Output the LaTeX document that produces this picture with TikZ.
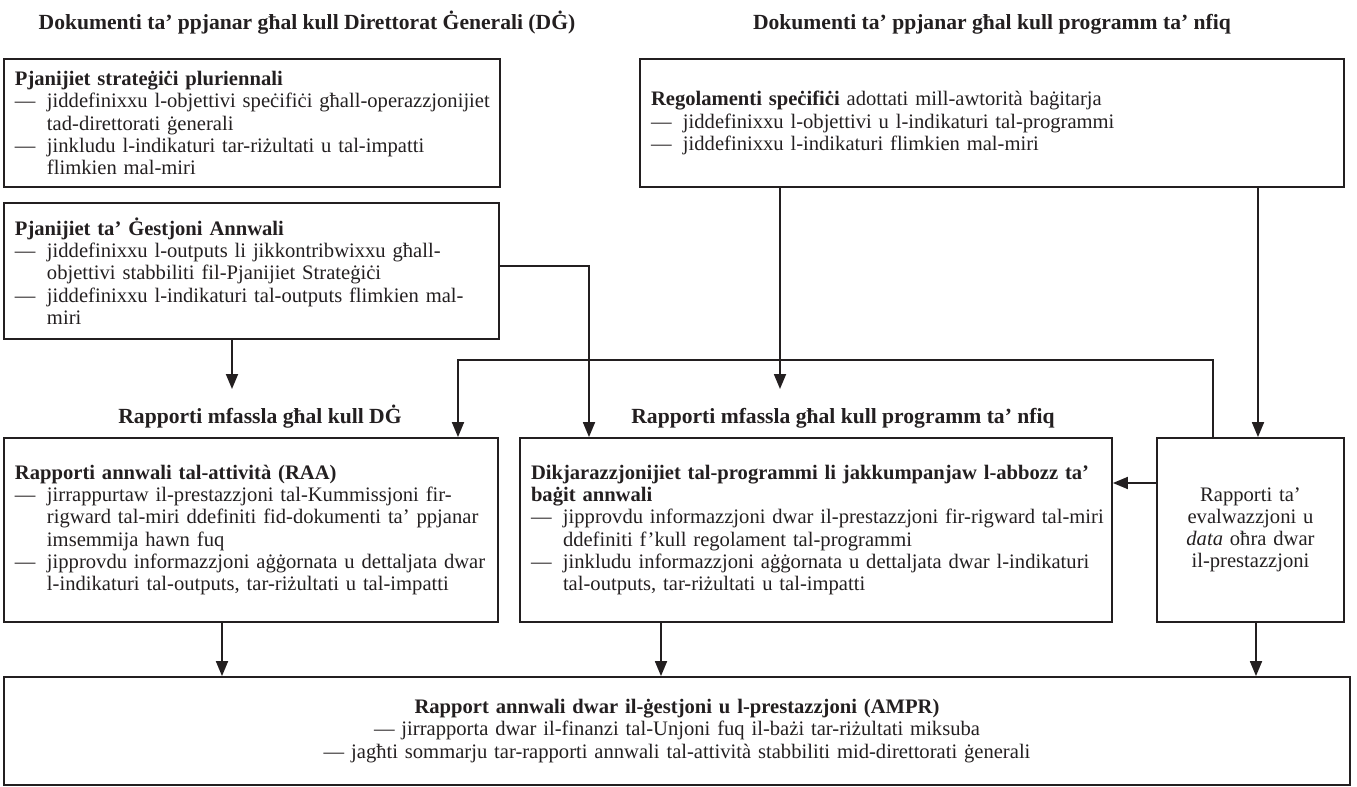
\documentclass[tikz,border=0pt]{standalone}
\usepackage{fontspec}
\setmainfont{Liberation Serif}
\usetikzlibrary{arrows.meta}
\definecolor{ink}{RGB}{35,31,32}
\newcommand\dsh{\makebox[16pt][l]{—}}
\newcommand\ind{\hspace*{16pt}}
\newcommand\lin[1]{\mbox{#1}}
\begin{document}
\begin{tikzpicture}[x=0.5pt,y=-0.5pt,
  every node/.style={text=ink},
  bx/.style={draw=ink, line width=0.9pt, inner xsep=5.5pt, inner ysep=2pt, align=left,
    font=\fontsize{10.3}{11.1}\selectfont},
  cbx/.style={bx, align=center},
  ttl/.style={anchor=base, font=\bfseries\fontsize{10.8}{12}\selectfont},
  arr/.style={draw=ink, line width=0.9pt, -{Triangle[length=7.5pt,width=6pt]}}
]
\useasboundingbox (0,0) rectangle (1357,787);

% titles
\node[ttl] (t1) at (307,29) {Dokumenti ta’ ppjanar għal kull Direttorat Ġenerali (DĠ)};
\node[ttl] (t2) at (992,29) {Dokumenti ta’ ppjanar għal kull programm ta’ nfiq};
\node[ttl] (t3) at (260,423) {Rapporti mfassla għal kull DĠ};
\node[ttl] (t4) at (843,423) {Rapporti mfassla għal kull programm ta’ nfiq};

% boxes
\node[bx, minimum width=248pt, minimum height=64pt, text width=237pt] (sp) at (252,123) {%
\lin{\textbf{Pjanijiet strateġiċi pluriennali}}\\
\lin{\dsh jiddefinixxu l-objettivi speċifiċi għall-operazzjonijiet}\\
\lin{\ind tad-direttorati ġenerali}\\
\lin{\dsh jinkludu l-indikaturi tar-riżultati u tal-impatti}\\
\lin{\ind flimkien mal-miri}};

\node[bx, minimum width=247.5pt, minimum height=68pt, text width=236.5pt] (agm) at (251.5,271) {%
\lin{\textbf{Pjanijiet ta’ Ġestjoni Annwali}}\\
\lin{\dsh jiddefinixxu l-outputs li jikkontribwixxu għall-}\\
\lin{\ind objettivi stabbiliti fil-Pjanijiet Strateġiċi}\\
\lin{\dsh jiddefinixxu l-indikaturi tal-outputs flimkien mal-}\\
\lin{\ind miri}};

\node[bx, minimum width=352pt, minimum height=64pt, text width=341pt] (reg) at (992,123) {%
\lin{\textbf{Regolamenti speċifiċi} adottati mill-awtorità baġitarja}\\
\lin{\dsh jiddefinixxu l-objettivi u l-indikaturi tal-programmi}\\
\lin{\dsh jiddefinixxu l-indikaturi flimkien mal-miri}};

\node[bx, minimum width=247pt, minimum height=92pt, text width=236pt] (raa) at (251,530) {%
\lin{\textbf{Rapporti annwali tal-attività (RAA)}}\\
\lin{\dsh jirrappurtaw il-prestazzjoni tal-Kummissjoni fir-}\\
\lin{\ind rigward tal-miri ddefiniti fid-dokumenti ta’ ppjanar}\\
\lin{\ind imsemmija hawn fuq}\\
\lin{\dsh jipprovdu informazzjoni aġġornata u dettaljata dwar}\\
\lin{\ind l-indikaturi tal-outputs, tar-riżultati u tal-impatti}};

\node[bx, minimum width=296pt, minimum height=92pt, text width=285pt] (dik) at (816,530) {%
\lin{\textbf{Dikjarazzjonijiet tal-programmi li jakkumpanjaw l-abbozz ta’}}\\
\lin{\textbf{baġit annwali}}\\
\lin{\dsh jipprovdu informazzjoni dwar il-prestazzjoni fir-rigward tal-miri}\\
\lin{\ind ddefiniti f’kull regolament tal-programmi}\\
\lin{\dsh jinkludu informazzjoni aġġornata u dettaljata dwar l-indikaturi}\\
\lin{\ind tal-outputs, tar-riżultati u tal-impatti}};

\node[cbx, minimum width=93.5pt, minimum height=92pt, text width=82.5pt] (evl) at (1250.5,530) {%
Rapporti ta’\\ evalwazzjoni u\\ \textit{data} oħra dwar\\ il-prestazzjoni};

\node[cbx, minimum width=673pt, minimum height=54pt, text width=662pt] (ampr) at (677,731) {%
\textbf{Rapport annwali dwar il-ġestjoni u l-prestazzjoni (AMPR)}\\
— jirrapporta dwar il-finanzi tal-Unjoni fuq il-bażi tar-riżultati miksuba\\
— jagħti sommarju tar-rapporti annwali tal-attività stabbiliti mid-direttorati ġenerali};

% helper coordinates
\coordinate (e1) at (232,389);
\coordinate (e2) at (780,389);
\coordinate (k) at (458,360);
\coordinate (c589) at (589,266);
\coordinate (c1258) at (1258,0);
\coordinate (c1213) at (1213,0);
\coordinate (c483) at (0,483);
\coordinate (c222) at (222,0);
\coordinate (c661) at (661,0);
\coordinate (c1256) at (1256,0);

% connectors
\draw[arr] (agm.south -| e1) -- (e1);
\draw[arr] (agm.east |- c589) -| (dik.north -| c589);
\draw[arr] (reg.south -| e2) -- (e2);
\draw[arr] (reg.south -| c1258) -- (evl.north -| c1258);
\draw[arr] (evl.north -| c1213) |- (k) -- (raa.north -| k);
\draw[arr] (evl.west |- c483) -- (dik.east |- c483);
\draw[arr] (raa.south -| c222) -- (ampr.north -| c222);
\draw[arr] (dik.south -| c661) -- (ampr.north -| c661);
\draw[arr] (evl.south -| c1256) -- (ampr.north -| c1256);
\end{tikzpicture}
\end{document}
